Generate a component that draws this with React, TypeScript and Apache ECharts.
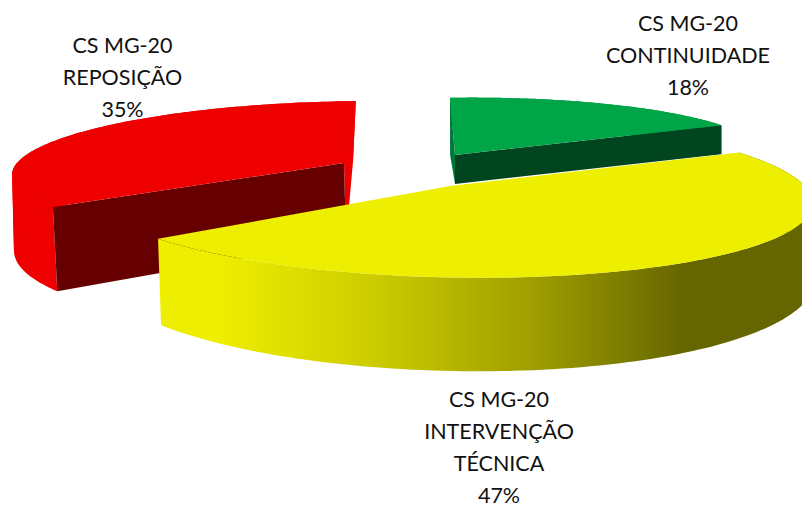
import React, { useEffect, useRef } from "react";
import * as echarts from "echarts";

const categories = ["CS MG-20\nCONTINUIDADE", "CS MG-20\nINTERVENÇÃO\nTÉCNICA", "CS MG-20\nREPOSIÇÃO"];
const values = [18, 47, 35];
const drawOrder = [2, 0, 1];

const FONT = "Lato";

const yellowSide = new echarts.graphic.LinearGradient(157, 0, 815, 0, [
  { offset: 0, color: "#eeee00" },
  { offset: 0.096, color: "#eeee00" },
  { offset: 0.33, color: "#cccc00" },
  { offset: 0.567, color: "#9f9f00" },
  { offset: 0.8, color: "#666600" },
  { offset: 1, color: "#666600" },
], true);

const looks: any[] = [
  { ax: 455, ay: 155, rx: 310, ry: 63, p: 0.1, rot: -1, e: 0, c: -0.012, h: 29, q: 0, dx: 0, dxq: 0, farDrop: 57,
    top: "#00a548", side: "#00a548", dark: "#00451f", darkAt: "end", light: "#00773a",
    label: [688, 55], lh: 32 },
  { ax: 450, ay: 186, rx: 360, ry: 80, p: 0.125, rot: -6, e: 0, c: 0.019, h: 72, q: 0.3, dx: 3, dxq: 0,
    top: "#eeee00", side: yellowSide, label: [499, 447], lh: 32.3 },
  { ax: 344, ay: 163, rx: 332, ry: 67, p: 0.1, rot: 8, e: 0.5, c: -0.036, h: 77, q: 0.2, dx: 2, dxq: -5,
    top: "#ee0000", side: "#ee0000", dark: "#660000", darkAt: "start", light: "#ee0000",
    label: [122.5, 77], lh: 32 },
];

function project(k: any, deg: number, r: number, down: boolean): number[] {
  const t = ((deg + k.rot) * Math.PI) / 180;
  const cos = Math.cos(t);
  const s = 1 / (1 + k.p * r * cos);
  const X = k.rx * s * Math.sin(t) * r;
  const U = k.ry * s * cos * r;
  let x = k.ax + X - k.e * U;
  let y = k.ay - U + k.c * X;
  if (down) {
    x += k.dx + k.dxq * cos * r;
    y += k.h * (1 - k.q * cos * r);
  }
  return [x, y];
}

function arc(k: any, a0: number, a1: number, down: boolean): number[][] {
  const pts: number[][] = [];
  const n = 120;
  for (let i = 0; i <= n; i++) pts.push(project(k, a0 + ((a1 - a0) * i) / n, 1, down));
  return pts;
}

// The band between the two arcs folds back at the left and right silhouette,
// so it is cut there into pieces that do not overlap themselves.
function bandPieces(topArc: number[][], bottomArc: number[][]): number[][][] {
  const xs = topArc.map((p) => p[0]);
  const last = xs.length - 1;
  const cuts = [0, xs.indexOf(Math.min(...xs)), xs.indexOf(Math.max(...xs)), last]
    .filter((v, i, a) => a.indexOf(v) === i)
    .sort((a, b) => a - b);
  const pieces: number[][][] = [];
  for (let i = 0; i < cuts.length - 1; i++) {
    const from = cuts[i];
    const to = Math.min(cuts[i + 1] + 1, last);
    pieces.push([...topArc.slice(from, to + 1), ...bottomArc.slice(from, to + 1).reverse()]);
  }
  return pieces;
}

function renderSlice(params: any, api: any) {
  const idx = api.value(0);
  const total = values.reduce((a, b) => a + b, 0);
  const before = values.slice(0, idx).reduce((a, b) => a + b, 0);
  const a0 = (before / total) * 360;
  const a1 = ((before + values[idx]) / total) * 360;
  const k = looks[idx];
  const apexTop = project(k, a0, 0, false);
  const apexBottom = project(k, a0, 0, true);
  const topArc = arc(k, a0, a1, false);
  const bottomArc = arc(k, a0, a1, true);
  const kids: any[] = [];
  for (const piece of bandPieces(topArc, bottomArc)) {
    kids.push({ type: "polygon", shape: { points: piece }, style: { fill: k.side } });
  }
  if (k.dark) {
    const darkDeg = k.darkAt === "end" ? a1 : a0;
    const lightDeg = k.darkAt === "end" ? a0 : a1;
    const farTop = project(k, lightDeg, 1, false);
    const farBottom = k.farDrop ? [farTop[0], farTop[1] + k.farDrop] : project(k, lightDeg, 1, true);
    kids.push({ type: "polygon", shape: { points: [farTop, apexTop, apexBottom, farBottom] }, style: { fill: k.light } });
    kids.push({
      type: "polygon",
      shape: { points: [apexTop, project(k, darkDeg, 1, false), project(k, darkDeg, 1, true), apexBottom] },
      style: { fill: k.dark },
    });
  }
  kids.push({ type: "polygon", shape: { points: [apexTop, ...topArc] }, style: { fill: k.top } });
  kids.push({
    type: "text",
    style: {
      text: `${categories[idx]}\n${values[idx]}%`,
      x: k.label[0],
      y: k.label[1],
      align: "center",
      verticalAlign: "middle",
      fontFamily: FONT,
      fontSize: 21.5,
      lineHeight: k.lh,
      fill: "#111111",
    },
  });
  return { type: "group", children: kids };
}

export default function App() {
  const ref = useRef<HTMLDivElement>(null);
  useEffect(() => {
    document.body.style.margin = "0";
    const chart = echarts.init(ref.current!, null, { renderer: "svg" });
    chart.setOption({
      animation: false,
      backgroundColor: "#ffffff",
      series: [
        {
          type: "custom",
          coordinateSystem: "none",
          silent: true,
          clip: false,
          renderItem: renderSlice,
          data: drawOrder.map((i) => [i, values[i]]),
        },
      ],
    });
    return () => chart.dispose();
  }, []);
  return <div ref={ref} style={{ width: 802, height: 508 }} />;
}
